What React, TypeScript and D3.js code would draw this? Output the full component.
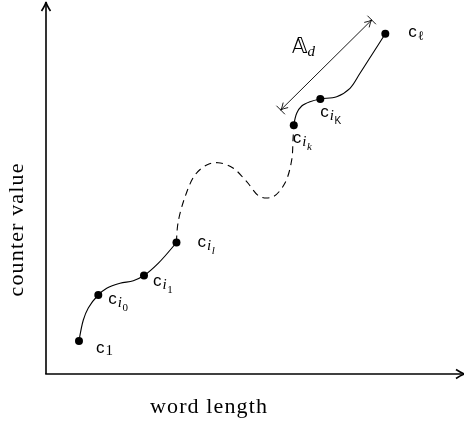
import React from "react";
import * as d3 from "d3";

const W = 464;
const H = 421;

// ---------- data (in axis units: 0..100 on both axes) ----------
const pointMain = ["c", "c", "c", "c", "c", "c", "c"];
const pointSub = ["1", "i", "i", "i", "i", "i", "ℓ"];
const pointSubSub = ["", "0", "1", "l", "k", "K", ""];
const pointX = [7.91, 12.54, 23.5, 31.29, 59.42, 65.78, 81.37];
const pointY = [8.92, 21.35, 26.62, 35.54, 67.22, 74.32, 91.97];

const lowerPathX = [7.91, 8.95, 10.14, 12.54, 14.56, 17.75, 20.94, 23.5, 26.9, 31.29];
const lowerPathY = [8.92, 14.59, 17.84, 21.35, 23.16, 24.51, 25.22, 26.62, 29.9, 35.54];

const dashedPathX = [31.29, 31.65, 33.33, 35.73, 38.54, 41.25, 44.84, 48.13, 51.32, 54.44, 57.31, 58.92, 59.23, 59.42];
const dashedPathY = [35.54, 40.81, 47.84, 53.78, 56.49, 57.11, 55.68, 51.97, 47.92, 47.92, 51.62, 57.84, 63.24, 67.22];

const upperPathX = [59.42, 60.12, 61.32, 63.31, 65.78, 69.71, 72.9, 75.3, 78.42, 81.37];
const upperPathY = [67.22, 70.46, 72.43, 73.59, 74.32, 74.95, 77.22, 81.27, 86.76, 91.97];

const spanX = [56.28, 78.1];
const spanY = [71.35, 95.68];
const spanLabel = "𝔸";
const spanSub = "d";

const xAxisLabel = "word length";
const yAxisLabel = "counter value";

// ---------- layout ----------
const x = d3.scaleLinear().domain([0, 100]).range([46, 463]);
const y = d3.scaleLinear().domain([0, 100]).range([374, 4]);

const labelDx = [17, 10, 9, 21, -1, 0, 23];
const labelDy = [12, 9, 10, 4, 18, 18, 3];

const SERIF = "'Liberation Serif', 'DejaVu Serif', serif";
const SANS = "'Liberation Sans', 'DejaVu Sans', sans-serif";

const zip = (xs: number[], ys: number[]) => xs.map((v, i) => [v, ys[i]] as [number, number]);

const line = d3
  .line<[number, number]>()
  .x((d) => x(d[0]))
  .y((d) => y(d[1]))
  .curve(d3.curveCatmullRom.alpha(0.5));

function arrowHead(tx: number, ty: number, angle: number, len: number, half: number) {
  const c = Math.cos(angle);
  const s = Math.sin(angle);
  const tr = (lx: number, ly: number) => [tx + lx * c - ly * s, ty + lx * s + ly * c];
  const a = tr(-len, -half);
  const q1 = tr(-len * 0.35, -half * 0.15);
  const t = tr(0, 0);
  const q2 = tr(-len * 0.35, half * 0.15);
  const b = tr(-len, half);
  return `M${a[0]},${a[1]} Q${q1[0]},${q1[1]} ${t[0]},${t[1]} Q${q2[0]},${q2[1]} ${b[0]},${b[1]}`;
}

function PointLabel({ i }: { i: number }) {
  const px = x(pointX[i]) + labelDx[i];
  const py = y(pointY[i]) + labelDy[i];
  const sub = pointSub[i];
  const ss = pointSubSub[i];
  const subItalic = sub === "i";
  const ssItalic = ss === "l" || ss === "k";
  const ssSans = ss === "K";
  return (
    <text x={px} y={py} fill="#000">
      <tspan fontFamily={SANS} fontSize={17} fill="#000">
        {pointMain[i]}
      </tspan>
      <tspan
        fontFamily={sub === "ℓ" ? "'DejaVu Serif', serif" : SERIF}
        fontStyle={subItalic ? "italic" : "normal"}
        fontSize={sub === "ℓ" ? 13 : 15}
        dx={1}
        dy={sub === "1" ? 2 : 3}
        fill="#000"
      >
        {sub}
      </tspan>
      {ss ? (
        <tspan
          fontFamily={ssSans ? SANS : SERIF}
          fontStyle={ssItalic ? "italic" : "normal"}
          fontSize={ssSans ? 10 : 11}
          dx={0.5}
          dy={4}
          fill="#000"
        >
          {ss}
        </tspan>
      ) : null}
    </text>
  );
}

export default function App() {
  const x0 = x.range()[0];
  const x1 = x.range()[1];
  const y0 = y.range()[0];
  const y1 = y.range()[1];

  const sx0 = x(spanX[0]);
  const sy0 = y(spanY[0]);
  const sx1 = x(spanX[1]);
  const sy1 = y(spanY[1]);
  const ang = Math.atan2(sy1 - sy0, sx1 - sx0);
  const nx = -Math.sin(ang);
  const ny = Math.cos(ang);
  const bar = 6;

  return (
    <svg
      width={W}
      height={H}
      viewBox={`0 0 ${W} ${H}`}
      style={{ position: "absolute", left: 0, top: 0, background: "#fff", willChange: "transform" }}
    >
      {/* axes */}
      <line x1={x0} y1={y0} x2={x0} y2={y1 - 1} stroke="#000" strokeWidth={1.6} />
      <line x1={x0 - 0.8} y1={y0} x2={x1 + 1} y2={y0} stroke="#000" strokeWidth={1.6} />
      <path d={arrowHead(x0, y1 - 2, -Math.PI / 2, 9, 4.5)} fill="none" stroke="#000" strokeWidth={1.6} />
      <path d={arrowHead(x1 + 2, y0, 0, 9, 4.5)} fill="none" stroke="#000" strokeWidth={1.6} />

      {/* curves */}
      <path d={line(zip(lowerPathX, lowerPathY)) || ""} fill="none" stroke="#000" strokeWidth={1.1} />
      <path
        d={line(zip(dashedPathX, dashedPathY)) || ""}
        fill="none"
        stroke="#000"
        strokeWidth={1.1}
        strokeDasharray="7,5"
      />
      <path d={line(zip(upperPathX, upperPathY)) || ""} fill="none" stroke="#000" strokeWidth={1.1} />

      {/* span arrow */}
      <line x1={sx0} y1={sy0} x2={sx1} y2={sy1} stroke="#000" strokeWidth={0.9} />
      <line x1={sx0 - nx * bar} y1={sy0 - ny * bar} x2={sx0 + nx * bar} y2={sy0 + ny * bar} stroke="#000" strokeWidth={0.9} />
      <line x1={sx1 - nx * bar} y1={sy1 - ny * bar} x2={sx1 + nx * bar} y2={sy1 + ny * bar} stroke="#000" strokeWidth={0.9} />
      <path d={arrowHead(sx1, sy1, ang, 7, 3.5)} fill="none" stroke="#000" strokeWidth={0.9} />
      <path d={arrowHead(sx0, sy0, ang + Math.PI, 7, 3.5)} fill="none" stroke="#000" strokeWidth={0.9} />
      <text x={292} y={53} fill="#000">
        <tspan fontFamily="'DejaVu Sans', sans-serif" fontSize={21}>
          {spanLabel}
        </tspan>
        <tspan fontFamily={SERIF} fontStyle="italic" fontSize={15} dy={3}>
          {spanSub}
        </tspan>
      </text>

      {/* points */}
      {pointX.map((v, i) => (
        <circle key={"p" + i} cx={x(v)} cy={y(pointY[i])} r={4} fill="#000" />
      ))}
      {pointX.map((_, i) => (
        <PointLabel key={"l" + i} i={i} />
      ))}

      {/* axis labels */}
      <text
        x={208.5}
        y={413}
        textAnchor="middle"
        fontFamily={SERIF}
        fontSize={22}
        textLength={117}
        lengthAdjust="spacing"
        fill="#000"
      >
        {xAxisLabel}
      </text>
      <text
        transform="translate(23,230) rotate(-90)"
        textAnchor="middle"
        fontFamily={SERIF}
        fontSize={22}
        textLength={133}
        lengthAdjust="spacing"
        fill="#000"
      >
        {yAxisLabel}
      </text>
    </svg>
  );
}
